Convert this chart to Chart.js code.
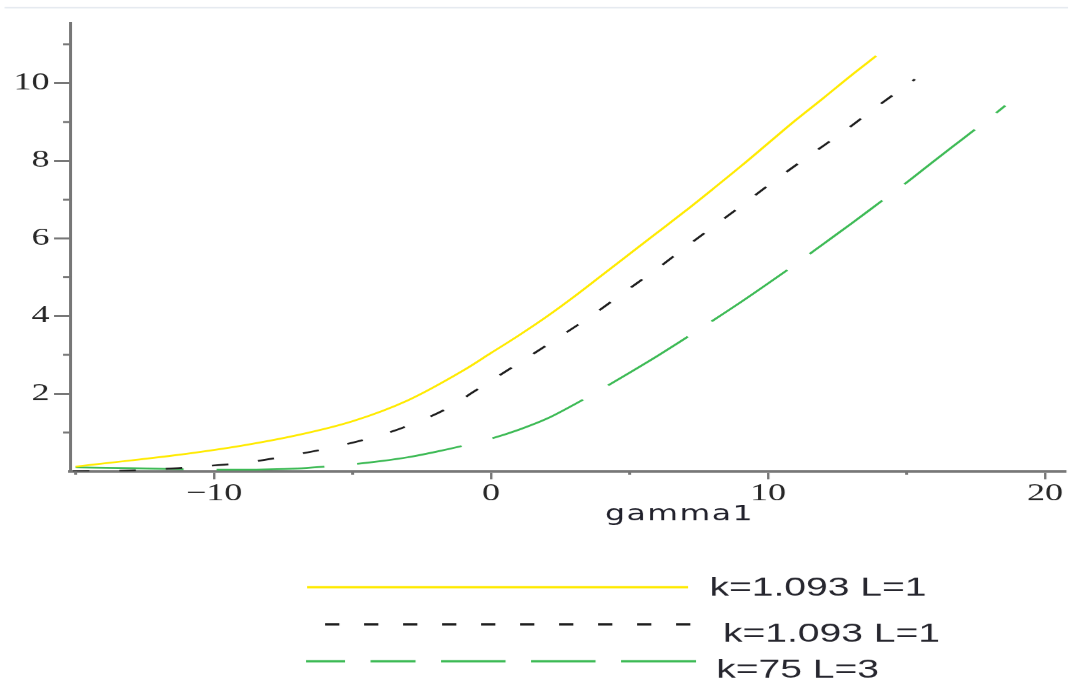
<!DOCTYPE html>
<html>
<head>
<meta charset="utf-8">
<script src="https://cdn.jsdelivr.net/npm/chart.js@4/dist/chart.umd.min.js"></script>
<style>
  html, body { margin: 0; padding: 0; background: #fff; overflow: hidden; }
  /* the original plot is stretched sideways, so draw narrow and widen it */
  #wrap {
    position: absolute; left: 0; top: 0;
    width: 713px; height: 681px;
    transform: scaleX(1.4993); transform-origin: 0 0;
  }
</style>
</head>
<body>
<div id="wrap"><canvas id="plot"></canvas></div>
<script>
// series (gamma1 -> value)
const yellowX = [-15, -13, -11, -9, -7, -5, -3, -1, 0, 1, 2, 3, 4, 5, 6, 7, 8, 9, 10, 11, 12, 13, 13.9];
const yellowY = [0.12, 0.28, 0.45, 0.66, 0.93, 1.29, 1.83, 2.6, 3.05, 3.5, 3.98, 4.5, 5.05, 5.6, 6.15, 6.7, 7.27, 7.85, 8.45, 9.05, 9.62, 10.2, 10.7];

const blackX = [-15.1, -13, -11.3, -10, -9, -7.3, -5.9, -4.55, -3.2, -1.5, -0.65, 0.7, 2.4, 3.65, 4.9, 6.05, 7.2, 8.2, 9.2, 10.1, 11.5, 12.8, 13.9, 15.3];
const blackY = [0.0, 0.02, 0.08, 0.15, 0.21, 0.4, 0.59, 0.82, 1.12, 1.65, 2.04, 2.65, 3.43, 4.02, 4.66, 5.25, 5.87, 6.4, 6.93, 7.42, 8.14, 8.79, 9.38, 10.1];

const greenX = [-15, -13, -11, -9, -7, -6, -5, -4, -3, -2, -1, 0, 1, 2, 3, 4, 5, 6, 7, 8, 9, 10, 11, 12, 13, 14, 15, 16, 17, 18, 18.56];
const greenY = [0.1, 0.08, 0.05, 0.04, 0.07, 0.12, 0.18, 0.26, 0.36, 0.5, 0.66, 0.84, 1.07, 1.35, 1.72, 2.12, 2.54, 2.97, 3.42, 3.88, 4.35, 4.84, 5.34, 5.86, 6.38, 6.91, 7.44, 8.0, 8.55, 9.1, 9.42];

const seriesLabels = ["k=1.093 L=1", "k=1.093 L=1", "k=75 L=3"];

const xTicks = [-10, 0, 10, 20];
const xMinor = [-15, -5, 5, 15];
const yTicks = [2, 4, 6, 8, 10];
const yMinor = [1, 3, 5, 7, 9, 11];
const xTitle = "gamma1";

const toPoints = (xs, ys) => xs.map((v, i) => ({ x: v, y: ys[i] }));

const axisColor = "#777";
const tickFont = { family: "'Liberation Serif', 'DejaVu Serif', serif", size: 24 };

// legend rows: line start/end, line y, text x, text baseline (canvas px)
const legendRows = [
  { x0: 204.7, x1: 458.7, y: 587, tx: 473, ty: 595, dash: [] },
  { x0: 216.7, x1: 466, y: 624, tx: 482, ty: 641, dash: [9.5, 16.5] },
  { x0: 204, x1: 466, y: 661, tx: 477.5, ty: 677, dash: [26, 17, 30, 17, 43, 17, 43, 17, 50] },
];

const extras = {
  id: "extras",
  beforeDraw(chart) {
    const ctx = chart.ctx;
    ctx.save();
    ctx.strokeStyle = "#e4e9ef";
    ctx.lineWidth = 1.5;
    ctx.beginPath();
    ctx.moveTo(3, 7.5);
    ctx.lineTo(712, 7.5);
    ctx.stroke();
    ctx.restore();
  },
  afterDraw(chart) {
    const { ctx, chartArea, scales } = chart;
    ctx.save();
    // minor ticks
    ctx.strokeStyle = axisColor;
    ctx.lineWidth = 2;
    yMinor.forEach((v) => {
      const py = scales.y.getPixelForValue(v);
      ctx.beginPath();
      ctx.moveTo(chartArea.left - 4.7, py);
      ctx.lineTo(chartArea.left, py);
      ctx.stroke();
    });
    xMinor.forEach((v) => {
      const px = scales.x.getPixelForValue(v);
      ctx.beginPath();
      ctx.moveTo(px, chartArea.bottom);
      ctx.lineTo(px, chartArea.bottom + 3.5);
      ctx.stroke();
    });

    // axis title, sits right of centre in the original
    ctx.fillStyle = "#1f1f2a";
    ctx.font = "21px 'DejaVu Sans', sans-serif";
    ctx.letterSpacing = "1px";
    ctx.textAlign = "center";
    ctx.textBaseline = "alphabetic";
    ctx.fillText(xTitle, 453, 520);
    ctx.letterSpacing = "0px";

    // legend
    chart.data.datasets.forEach((ds, i) => {
      const r = legendRows[i];
      ctx.strokeStyle = ds.borderColor;
      ctx.lineWidth = 2.2;
      ctx.setLineDash(r.dash);
      ctx.beginPath();
      ctx.moveTo(r.x0, r.y);
      ctx.lineTo(r.x1, r.y);
      ctx.stroke();
      ctx.setLineDash([]);
      ctx.fillStyle = "#26262e";
      ctx.font = "26px 'Liberation Sans', Arial, sans-serif";
      ctx.textAlign = "left";
      ctx.fillText(ds.label, r.tx, r.ty);
    });
    ctx.restore();
  },
};

new Chart(document.getElementById("plot"), {
  type: "scatter",
  data: {
    datasets: [
      {
        label: seriesLabels[0],
        data: toPoints(yellowX, yellowY),
        borderColor: "#ffea00",
        borderWidth: 1.8,
      },
      {
        label: seriesLabels[1],
        data: toPoints(blackX, blackY),
        borderColor: "#1e1e1e",
        borderWidth: 1.8,
        borderDash: [11, 20],
      },
      {
        label: seriesLabels[2],
        data: toPoints(greenX, greenY),
        borderColor: "#3dba55",
        borderWidth: 1.8,
        borderDash: [72, 22],
      },
    ],
  },
  options: {
    responsive: true,
    maintainAspectRatio: false,
    animation: false,
    devicePixelRatio: 1.5,
    layout: { padding: { left: 0, top: 23, right: 3, bottom: 0 } },
    datasets: {
      scatter: {
        showLine: true,
        pointRadius: 0,
        fill: false,
        cubicInterpolationMode: "monotone",
      },
    },
    plugins: {
      legend: { display: false },
      tooltip: { enabled: false },
    },
    scales: {
      x: {
        type: "linear",
        min: -15.2,
        max: 20.72,
        afterBuildTicks: (scale) => {
          scale.ticks = xTicks.map((v) => ({ value: v }));
        },
        afterFit: (scale) => {
          scale.height = 210;
        },
        border: { display: true, color: axisColor, width: 2.5 },
        grid: {
          drawOnChartArea: false,
          drawTicks: true,
          tickLength: 8,
          color: axisColor,
          lineWidth: 1.6,
        },
        ticks: {
          font: tickFont,
          color: "#262626",
          padding: 0,
          maxRotation: 0,
          callback: (v) => (v < 0 ? "\u2212" + Math.abs(v) : String(v)),
        },
      },
      y: {
        type: "linear",
        min: 0,
        max: 11.55,
        afterBuildTicks: (scale) => {
          scale.ticks = yTicks.map((v) => ({ value: v }));
        },
        afterFit: (scale) => {
          scale.width = 46.7;
        },
        border: { display: true, color: axisColor, width: 2 },
        grid: {
          drawOnChartArea: false,
          drawTicks: true,
          tickLength: 10.7,
          color: axisColor,
          lineWidth: 2,
        },
        ticks: {
          font: tickFont,
          color: "#262626",
          padding: 3,
        },
      },
    },
  },
  plugins: [extras],
});
</script>
</body>
</html>
